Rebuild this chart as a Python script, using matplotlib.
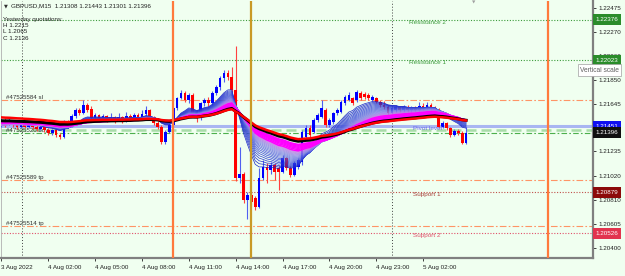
import matplotlib
matplotlib.use('Agg')
import matplotlib.pyplot as plt
import matplotlib.colors as mcolors
import matplotlib.transforms as mtrans
import numpy as np

# ── colours ─────────────────────────────────────
BG = '#f0fff0'
BULL = '#0000ff'
BEAR = '#ff0000'
ORANGE = '#ff7a3c'
GOLD = '#c99a26'
GREEN = '#3c9c3c'
PIVOT = '#a9b6f2'
FONT = 'Liberation Sans'

plt.rcParams['font.family'] = [FONT, 'DejaVu Sans']

# ── data: GBPUSD M15, bar 0 = 4 Aug 00:00, prices in 0.0001 ──
bars = np.arange(-4, 116)
opens = np.array([
    12146, 12151, 12147, 12150, 12146, 12145, 12148, 12145, 12147, 12145,
    12143, 12145, 12142, 12139, 12142, 12138, 12136, 12149, 12146, 12154,
    12159, 12157, 12164, 12160, 12152, 12155, 12152, 12154, 12151, 12153,
    12151, 12153, 12150, 12154, 12152, 12155, 12152, 12156, 12159, 12152,
    12148, 12145, 12132, 12140, 12146, 12161, 12170, 12174, 12168, 12172,
    12157, 12152, 12165, 12168, 12165, 12174, 12179, 12187, 12191, 12188,
    12177, 12100, 12104, 12081, 12086, 12083, 12075, 12100, 12110, 12107,
    12112, 12109, 12106, 12118, 12109, 12103, 12110, 12114, 12136, 12144,
    12140, 12151, 12153, 12159, 12146, 12149, 12157, 12158, 12165, 12168,
    12170, 12168, 12174, 12173, 12172, 12168, 12170, 12166, 12164, 12162,
    12157, 12159, 12162, 12159, 12162, 12159, 12161, 12159, 12163, 12161,
    12164, 12161, 12159, 12145, 12148, 12144, 12138, 12141, 12139, 12130.8]) / 1e4
highs = np.array([
    12152, 12152, 12152, 12151, 12148, 12150, 12149, 12149, 12148, 12146,
    12147, 12146, 12144, 12143, 12143, 12139, 12151, 12151, 12156, 12161,
    12161, 12168, 12165, 12163, 12157, 12156, 12156, 12155, 12157, 12154,
    12157, 12154, 12158, 12156, 12157, 12157, 12159, 12163, 12160, 12154,
    12150, 12146, 12142, 12148, 12163, 12171, 12177, 12176, 12174, 12174,
    12159, 12166, 12170, 12171, 12176, 12181, 12189, 12194, 12194, 12197,
    12215, 12127, 12106, 12088, 12088, 12085, 12109, 12116, 12113, 12114,
    12113, 12111, 12120, 12119, 12111, 12115, 12118, 12142, 12146, 12146,
    12152, 12157, 12168, 12161, 12152, 12158, 12161, 12168, 12172, 12175,
    12171, 12177, 12176, 12175, 12174, 12172, 12171, 12168, 12167, 12164,
    12163, 12164, 12163, 12164, 12164, 12163, 12163, 12166, 12165, 12166,
    12165, 12163, 12161, 12150, 12149, 12145, 12143, 12143, 12141, 12144.3]) / 1e4
lows = np.array([
    12145, 12145, 12146, 12145, 12143, 12144, 12144, 12144, 12143, 12141,
    12142, 12140, 12138, 12138, 12136, 12134, 12135, 12145, 12145, 12152,
    12155, 12156, 12158, 12151, 12151, 12150, 12150, 12149, 12150, 12148,
    12150, 12148, 12149, 12150, 12151, 12151, 12151, 12154, 12151, 12146,
    12143, 12130, 12130, 12139, 12145, 12159, 12169, 12166, 12165, 12154,
    12149, 12151, 12163, 12163, 12164, 12172, 12177, 12184, 12185, 12175,
    12098, 12096, 12079, 12065, 12076, 12073, 12074, 12099, 12096, 12104,
    12099, 12090, 12105, 12107, 12101, 12102, 12108, 12112, 12134, 12136,
    12139, 12149, 12152, 12145, 12145, 12147, 12155, 12157, 12164, 12167,
    12164, 12166, 12168, 12169, 12168, 12167, 12165, 12162, 12160, 12155,
    12156, 12158, 12158, 12158, 12158, 12157, 12158, 12158, 12159, 12159,
    12159, 12158, 12144, 12144, 12142, 12136, 12137, 12138, 12130, 12130.1]) / 1e4
closes = np.array([
    12151, 12147, 12150, 12146, 12145, 12148, 12145, 12147, 12145, 12143,
    12145, 12142, 12139, 12142, 12138, 12136, 12149, 12146, 12154, 12159,
    12157, 12164, 12159, 12152, 12155, 12152, 12154, 12151, 12153, 12151,
    12153, 12150, 12154, 12152, 12155, 12152, 12156, 12159, 12152, 12148,
    12145, 12132, 12140, 12146, 12161, 12170, 12174, 12168, 12172, 12157,
    12152, 12165, 12168, 12165, 12174, 12179, 12187, 12191, 12188, 12177,
    12100, 12104, 12081, 12086, 12080, 12075, 12100, 12110, 12107, 12112,
    12106, 12106, 12118, 12109, 12103, 12113, 12116, 12140, 12144, 12138,
    12151, 12155, 12161, 12146, 12151, 12157, 12159, 12166, 12171, 12172,
    12165, 12175, 12170, 12171, 12170, 12171, 12166, 12164, 12162, 12157,
    12161, 12162, 12159, 12162, 12159, 12161, 12159, 12163, 12161, 12164,
    12161, 12159, 12145, 12148, 12144, 12138, 12141, 12139, 12131, 12139.6]) / 1e4

# moving-average ribbon (EMA periods) and their values at the left edge
fast_periods = list(range(10, 30))
pink_periods = list(range(30, 44, 2))
black_period = 50
red_period = 56
fast_start = 1.2146
pink_start = 1.2148
black_start = 1.2150
red_start = 1.2153

# chart levels
resistance = [1.22376, 1.22023]
support = [1.20879, 1.20526]
pivot = 1.21451
bid = 1.21396
entry = 1.21420
sl_level = 1.21680
tp_levels = [1.20987, 1.20590]
order_sl = '#47525584 sl'
order_entry = '#47525520 buy'
order_tp = ['#47525589 tp', '#47525514 tp']

vlines_orange = [40, 136]
vline_gold = 60
day_separators = [1.3, 96]

price_ticks = [1.22475, 1.22270, 1.22060, 1.21850, 1.21645,
               1.21235, 1.21020, 1.20810, 1.20605, 1.20400]
time_ticks = [-4, 8, 20, 32, 44, 56, 68, 80, 92, 104]
time_labels = ['3 Aug 2022', '4 Aug 02:00', '4 Aug 05:00', '4 Aug 08:00',
               '4 Aug 11:00', '4 Aug 14:00', '4 Aug 17:00', '4 Aug 20:00',
               '4 Aug 23:00', '5 Aug 02:00']


def ema(values, period, start):
    out = np.empty(len(values))
    a = 2.0 / (period + 1)
    prev = start
    for k, v in enumerate(values):
        prev = prev + a * (v - prev)
        out[k] = prev
    return out


fig = plt.figure(figsize=(6.25, 2.76), dpi=100, facecolor=BG)
ax = fig.add_axes([1 / 625, 18 / 276, 592 / 625, 257 / 276])
ax.set_facecolor(BG)
ax.set_xlim(-4.1, 147.5)
ax.set_ylim(1.20311, 1.22538)

# ── horizontal levels ──────────────────────────
for r in resistance:
    ax.axhline(r, color=GREEN, lw=0.8, ls=(0, (1, 1.5)), zorder=1)
ax.axhline(support[0], color='#c0504a', lw=0.8, ls=(0, (1, 1.5)), zorder=1)
ax.axhline(support[1], color='#e0506a', lw=0.8, ls=(0, (1, 1.5)), zorder=1)
for lv in [sl_level] + tp_levels:
    ax.axhline(lv, color='#ff9466', lw=0.8, ls=(0, (6, 2, 1.5, 2)), zorder=1)
ax.axhline(pivot, color=PIVOT, lw=2.2, zorder=1)
ax.axhline(entry, color='#a8dca8', lw=1.8, ls=(0, (4, 2)), zorder=1)
ax.axhline(bid, color='#4cb04c', lw=0.8, ls=(0, (5, 2, 1.5, 2)), zorder=1)

# ── vertical lines ─────────────────────────────
for d in day_separators:
    ax.axvline(d, color='#404040', lw=0.7, ls=(0, (1, 2)), zorder=1)

# ── level labels ───────────────────────────────
ax.text(100.4, resistance[0], 'Resistance 2', color=GREEN, fontsize=4.6,
        va='top', ha='left')
ax.text(100.4, resistance[1], 'Resistance 1', color=GREEN, fontsize=4.6,
        va='top', ha='left')
ax.text(101.4, pivot, 'Pivot level', color='#6b6bea', fontsize=4.6,
        va='top', ha='left', zorder=6)
ax.text(101.4, support[0], 'Support 1', color='#a8403a', fontsize=4.6,
        va='top', ha='left')
ax.text(101.4, support[1], 'Support 2', color='#e0506a', fontsize=4.6,
        va='top', ha='left')
ax.text(-2.8, sl_level, order_sl, color='#303030', fontsize=4.4,
        va='bottom', ha='left')
ax.text(-2.8, entry, order_entry, color='#303030', fontsize=4.4,
        va='center', ha='left', zorder=1.5)
for lv, lbl in zip(tp_levels, order_tp):
    ax.text(-2.8, lv, lbl, color='#303030', fontsize=4.4,
            va='bottom', ha='left')

# ── candles ────────────────────────────────────
up = closes >= opens
cols = np.where(up, BULL, BEAR)
wick_cols = np.where(up, '#5060f0', '#ff4040')
ax.vlines(bars, lows, highs, colors=wick_cols, lw=0.8, zorder=3)
body = np.where(np.abs(closes - opens) < 0.00002, 0.00002, closes - opens)
ax.bar(bars, body, bottom=opens, width=0.7, color=cols, lw=0, zorder=3)

# ── ribbon ─────────────────────────────────────
cmap = mcolors.LinearSegmentedColormap.from_list(
    'rib', ['#1a26c8', '#3c4cd8', '#8080e4', '#c878e6'])
for k, p in enumerate(fast_periods):
    ax.plot(bars, ema(closes, p, fast_start),
            color=cmap(k / (len(fast_periods) - 1)), lw=0.5, zorder=4)
for p in pink_periods:
    ax.plot(bars, ema(closes, p, pink_start), color='#ff00ff', lw=1.1, zorder=4)
ax.plot(bars, ema(closes, black_period, black_start), color='black', lw=2.2, zorder=5)
ax.plot(bars, ema(closes, red_period, red_start), color='red', lw=1.8, zorder=5)

for v in vlines_orange:
    ax.axvline(v, color=ORANGE, lw=1.6, zorder=5)
ax.axvline(vline_gold, color=GOLD, lw=1.6, zorder=5)

# ── axes ───────────────────────────────────────
ax.spines['top'].set_visible(False)
ax.spines['left'].set_color('#b0b0b0')
ax.spines['left'].set_linewidth(0.6)
for s in ['right', 'bottom']:
    ax.spines[s].set_color('#808080')
    ax.spines[s].set_linewidth(1.6)

ax.yaxis.tick_right()
ax.set_yticks(price_ticks)
ax.set_yticklabels([f'{p:.5f}' for p in price_ticks])
ax.tick_params(axis='y', length=2.5, width=0.6, pad=1.5, labelsize=4.5,
               colors='#202020')
ax.set_xticks(time_ticks)
ax.set_xticklabels(time_labels)
ax.tick_params(axis='x', length=2.5, width=0.6, pad=2.5, labelsize=4.5,
               colors='#202020')
for lbl in ax.get_xticklabels():
    lbl.set_horizontalalignment('left')

# ── price boxes on the scale ──────────────────
yx = mtrans.blended_transform_factory(ax.transAxes, ax.transData)
boxes = [(resistance[0], '#2a8c2a'), (resistance[1], '#2a8c2a'),
         (pivot, '#1010f0'), (bid, '#101010'),
         (support[0], '#8c0a0a'), (support[1], '#e2344e')]
for price, fc in boxes:
    ax.text(1.0045, price, f'{price:.5f}', transform=yx, fontsize=4.5,
            color='white', va='center', ha='left', zorder=10, clip_on=False,
            bbox=dict(boxstyle='square,pad=0.45', fc=fc, ec='none'))

# ── header texts ───────────────────────────────
fig.text(4 / 625, 1 - 6 / 276, '\u25bc', fontsize=3.6, color='#303030',
         va='center', ha='left', family=['DejaVu Sans'])
fig.text(11 / 625, 1 - 6 / 276, 'GBPUSD,M15  1.21308 1.21443 1.21301 1.21396',
         fontsize=4.5, color='#202020', va='center', ha='left')
fig.text(3 / 625, 1 - 17 / 276,
         'Yesterday quotations:\nH 1.2215\nL 1.2065\nC 1.2136',
         fontsize=4.5, color='#202020', va='top', ha='left', linespacing=1.3)
fig.text(474 / 625, 1 - 3 / 276, '\u25bc', fontsize=3.2, color='#a0a0a0',
         va='center', ha='center', family=['DejaVu Sans'])
fig.text(580 / 625, 1 - 70 / 276, 'Vertical scale', fontsize=4.8,
         color='#606060', va='center', ha='left', zorder=20,
         bbox=dict(boxstyle='square,pad=0.35', fc='white', ec='#a0a0a0', lw=0.5))

fig.savefig('out.png', dpi=100, facecolor=BG)
